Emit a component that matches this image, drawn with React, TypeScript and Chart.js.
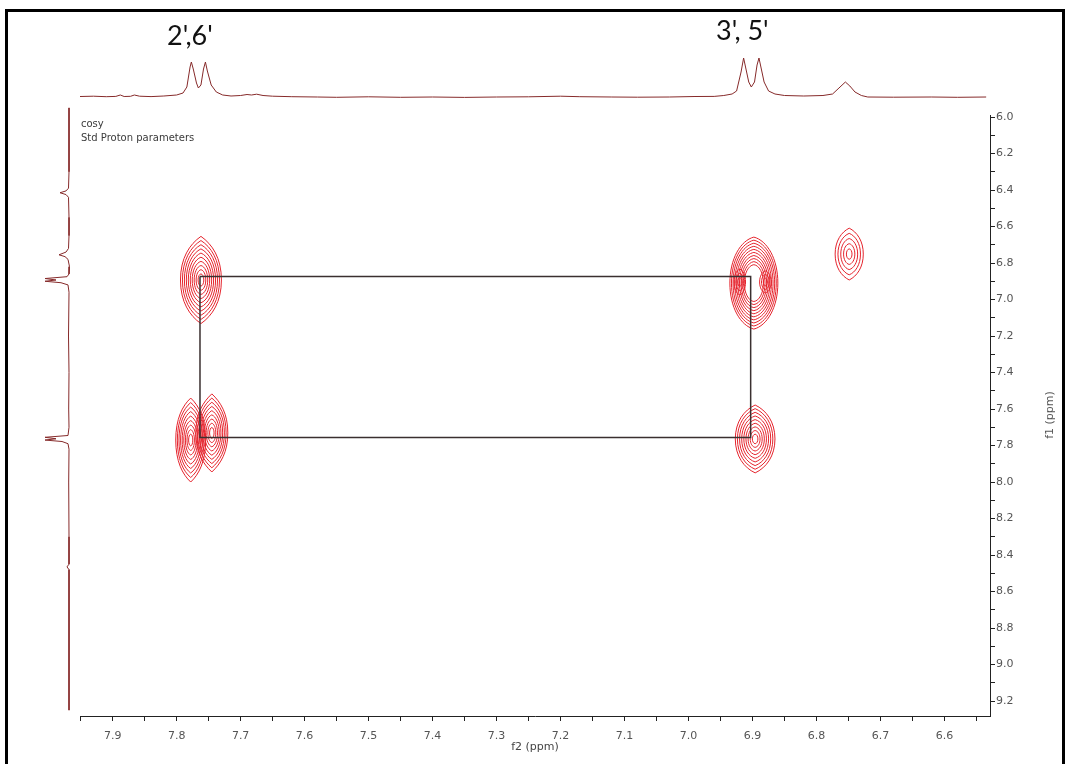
import React, { useEffect, useRef } from "react";
import { Chart, registerables } from "chart.js";
Chart.register(...registerables);

// ---------- axes ----------
const F2_MIN = 6.529;
const F2_MAX = 7.951;
const F1_MIN = 5.989;
const F1_MAX = 9.282;
const X_MAJOR = [7.9, 7.8, 7.7, 7.6, 7.5, 7.4, 7.3, 7.2, 7.1, 7.0, 6.9, 6.8, 6.7, 6.6];
const X_MINOR = [7.95, 7.85, 7.75, 7.65, 7.55, 7.45, 7.35, 7.25, 7.15, 7.05, 6.95, 6.85, 6.75, 6.65, 6.55];
const Y_MAJOR = [6.0, 6.2, 6.4, 6.6, 6.8, 7.0, 7.2, 7.4, 7.6, 7.8, 8.0, 8.2, 8.4, 8.6, 8.8, 9.0, 9.2];
const Y_MINOR = [6.1, 6.3, 6.5, 6.7, 6.9, 7.1, 7.3, 7.5, 7.7, 7.9, 8.1, 8.3, 8.5, 8.7, 8.9, 9.1];

// ---------- 2D cross peaks (centre, half widths in ppm, contour count, tip sharpness, innermost level) ----------
const PEAK_F2 = [7.762, 7.778, 7.745, 6.898, 6.920, 6.880, 6.896, 6.749];
const PEAK_F1 = [6.893, 7.770, 7.731, 6.910, 6.904, 6.904, 7.764, 6.751];
const PEAK_W2 = [0.032, 0.0234, 0.025, 0.0375, 0.009, 0.009, 0.031, 0.022];
const PEAK_W1 = [0.239, 0.230, 0.214, 0.252, 0.07, 0.06, 0.186, 0.142];
const PEAK_LEVELS = [10, 9, 9, 10, 3, 3, 9, 5];
const PEAK_TIP = [0.6, 0.6, 0.7, 0.25, 0.2, 0.2, 0.5, 0.5];
const PEAK_INNER = [0.14, 0.14, 0.14, 0.4, 0.35, 0.35, 0.14, 0.2];

// ---------- correlation box ----------
const RECT_F2 = [7.7635, 6.903, 6.903, 7.7635, 7.7635];
const RECT_F1 = [6.874, 6.874, 7.756, 7.756, 6.874];

// ---------- top 1D projection (f2) ----------
const TOP_PPM = [7.951, 7.93, 7.91, 7.895, 7.888, 7.882, 7.872, 7.866, 7.858, 7.84, 7.82, 7.8, 7.79, 7.784, 7.779, 7.777, 7.774, 7.769, 7.766, 7.762, 7.758, 7.755, 7.752, 7.746, 7.738, 7.728, 7.715, 7.7, 7.69, 7.683, 7.675, 7.665, 7.65, 7.62, 7.58, 7.55, 7.5, 7.45, 7.4, 7.35, 7.3, 7.25, 7.2, 7.17, 7.12, 7.08, 7.03, 6.99, 6.96, 6.945, 6.932, 6.925, 6.918, 6.914, 6.911, 6.906, 6.902, 6.897, 6.893, 6.89, 6.887, 6.882, 6.875, 6.865, 6.85, 6.82, 6.79, 6.775, 6.765, 6.755, 6.748, 6.74, 6.73, 6.72, 6.68, 6.62, 6.58, 6.535];
const TOP_INT = [0.5, 0.8, 0.3, 0.6, 2, 0.5, 0.7, 2, 0.8, 0.4, 1, 2, 4, 10, 30, 35, 28, 14, 9, 12, 28, 35, 26, 12, 5, 2, 1, 1.5, 2.5, 2, 2.8, 1.5, 0.8, 0.3, 0, -0.3, 0.2, -0.3, 0, -0.4, 0, 0.2, 0.8, 0.3, 0, -0.2, 0, 0.5, 0.6, 1.5, 3, 6, 25, 39, 30, 15, 10, 15, 32, 39, 30, 15, 6, 3, 1.5, 1, 1.5, 3, 9, 15, 11, 5, 1.5, 0, -0.2, 0, -0.3, 0];

// ---------- left 1D projection (f1) ----------
const LEFT_PPM = [5.95, 6.3, 6.39, 6.405, 6.415, 6.425, 6.44, 6.55, 6.65, 6.72, 6.74, 6.755, 6.765, 6.78, 6.82, 6.86, 6.875, 6.885, 6.893, 6.9, 6.908, 6.92, 6.96, 7.2, 7.4, 7.6, 7.7, 7.745, 7.755, 7.763, 7.77, 7.778, 7.79, 7.82, 8.0, 8.3, 8.45, 8.465, 8.48, 8.8, 9.25];
const LEFT_INT = [0, 0, 0.5, 3, 9, 3, 0.5, 0, 0, 0.5, 3, 10, 4, 1, -0.5, 0, 2, 24, 13, 24, 8, 1, 0, 0.5, 0, 0.3, 0, 1, 24, 13, 24, 7, 1, 0, 0.3, 0, 0, 2, 0, 0, 0];

const PEAK_LABELS = ["2',6'", "3', 5'"];
const INFO_LINES = ["cosy", "Std Proton parameters"];

const CONTOUR_COLOR = "#e5232c";
const TRACE_COLOR = "#862a2a";
const TICK_FONT = { family: "DejaVu Sans", size: 11 };

function lemon(ctx: CanvasRenderingContext2D, cx: number, cy: number, a: number, b: number, p: number) {
  const k = 0.5523;
  const ty = 1 - 0.3 * p;
  const sy = k * (1 - 0.15 * p);
  ctx.beginPath();
  ctx.moveTo(cx, cy - b);
  ctx.bezierCurveTo(cx + a * k, cy - b * ty, cx + a, cy - b * sy, cx + a, cy);
  ctx.bezierCurveTo(cx + a, cy + b * sy, cx + a * k, cy + b * ty, cx, cy + b);
  ctx.bezierCurveTo(cx - a * k, cy + b * ty, cx - a, cy + b * sy, cx - a, cy);
  ctx.bezierCurveTo(cx - a, cy - b * sy, cx - a * k, cy - b * ty, cx, cy - b);
  ctx.closePath();
  ctx.stroke();
}

const contourPlugin = {
  id: "contours",
  beforeDatasetsDraw(chart: any) {
    const { ctx, scales, chartArea } = chart;
    const xs = scales.x;
    const ys = scales.y;
    ctx.save();
    ctx.beginPath();
    ctx.rect(chartArea.left, chartArea.top, chartArea.right - chartArea.left, chartArea.bottom - chartArea.top);
    ctx.clip();
    ctx.strokeStyle = CONTOUR_COLOR;
    ctx.lineWidth = 1;
    for (let i = 0; i < PEAK_F2.length; i++) {
      const cx = xs.getPixelForValue(PEAK_F2[i]);
      const cy = ys.getPixelForValue(PEAK_F1[i]);
      const a = Math.abs(xs.getPixelForValue(PEAK_F2[i] + PEAK_W2[i]) - cx);
      const b = Math.abs(ys.getPixelForValue(PEAK_F1[i] + PEAK_W1[i]) - cy);
      const n = PEAK_LEVELS[i];
      const span = 1 - PEAK_INNER[i];
      for (let k = 0; k < n; k++) {
        const f = 1 - (k * span) / (n - 1);
        lemon(ctx, cx, cy, a * f, b * f, PEAK_TIP[i] * f);
      }
    }
    ctx.restore();
  },
  afterDraw(chart: any) {
    const { ctx } = chart;
    ctx.save();
    ctx.translate(1050, 415);
    ctx.rotate(-Math.PI / 2);
    ctx.fillStyle = "#555";
    ctx.font = "11px 'DejaVu Sans'";
    ctx.textAlign = "center";
    ctx.textBaseline = "middle";
    ctx.fillText("f1 (ppm)", 0, 0);
    ctx.restore();
  },
};

const isIn = (arr: number[], v: number) => arr.some((a) => Math.abs(a - v) < 1e-6);

export default function App() {
  const mainRef = useRef<HTMLCanvasElement>(null);
  const topRef = useRef<HTMLCanvasElement>(null);
  const leftRef = useRef<HTMLCanvasElement>(null);

  useEffect(() => {
    Chart.defaults.font.family = "DejaVu Sans";
    const main = new Chart(mainRef.current!, {
      type: "scatter",
      data: {
        datasets: [
          {
            data: RECT_F2.map((x, i) => ({ x, y: RECT_F1[i] })),
            showLine: true,
            borderColor: "#3a3030",
            borderWidth: 1.5,
            pointRadius: 0,
            tension: 0,
          },
        ],
      },
      options: {
        animation: false,
        responsive: false,
        maintainAspectRatio: false,
        layout: { padding: { left: 80, top: 115, right: 0, bottom: 0 } },
        plugins: { legend: { display: false }, tooltip: { enabled: false } },
        scales: {
          x: {
            type: "linear",
            position: "bottom",
            reverse: true,
            min: F2_MIN,
            max: F2_MAX,
            afterBuildTicks: (s: any) => {
              s.ticks = [...X_MAJOR, ...X_MINOR].sort((a, b) => b - a).map((v) => ({ value: v }));
            },
            afterFit: (s: any) => {
              s.height = 48;
            },
            ticks: {
              autoSkip: false,
              maxRotation: 0,
              padding: 9,
              color: "#555",
              font: TICK_FONT,
              callback: (v: any) => (isIn(X_MAJOR, Number(v)) ? Number(v).toFixed(1) : ""),
            },
            grid: { drawOnChartArea: false, tickLength: 5, color: "#222" },
            border: { color: "#222", width: 1 },
            title: {
              display: true,
              text: "f2 (ppm)",
              color: "#444",
              font: TICK_FONT,
              padding: { top: 0, bottom: 10 },
            },
          },
          y: {
            type: "linear",
            position: "right",
            reverse: true,
            min: F1_MIN,
            max: F1_MAX,
            afterBuildTicks: (s: any) => {
              s.ticks = [...Y_MAJOR, ...Y_MINOR].sort((a, b) => a - b).map((v) => ({ value: v }));
            },
            afterFit: (s: any) => {
              s.width = 75;
            },
            ticks: {
              autoSkip: false,
              padding: 1,
              color: "#555",
              font: TICK_FONT,
              callback: (v: any) => (isIn(Y_MAJOR, Number(v)) ? Number(v).toFixed(1) : ""),
            },
            grid: { drawOnChartArea: false, tickLength: 5, color: "#222" },
            border: { color: "#222", width: 1 },
          },
        },
      },
      plugins: [contourPlugin],
    } as any);

    const top = new Chart(topRef.current!, {
      type: "scatter",
      data: {
        datasets: [
          {
            data: TOP_PPM.map((x, i) => ({ x, y: TOP_INT[i] })),
            showLine: true,
            borderColor: TRACE_COLOR,
            borderWidth: 1,
            pointRadius: 0,
            tension: 0,
            clip: false,
          },
        ],
      },
      options: {
        animation: false,
        responsive: false,
        maintainAspectRatio: false,
        layout: { padding: { left: 80, right: 75, top: 0, bottom: 0 } },
        plugins: { legend: { display: false }, tooltip: { enabled: false } },
        scales: {
          x: { type: "linear", display: false, reverse: true, min: F2_MIN, max: F2_MAX },
          y: { type: "linear", display: false, min: -5, max: 47 },
        },
      },
    } as any);

    const left = new Chart(leftRef.current!, {
      type: "scatter",
      data: {
        datasets: [
          {
            data: LEFT_PPM.map((y, i) => ({ x: LEFT_INT[i], y })),
            showLine: true,
            borderColor: TRACE_COLOR,
            borderWidth: 1,
            pointRadius: 0,
            tension: 0,
            clip: false,
          },
        ],
      },
      options: {
        animation: false,
        responsive: false,
        maintainAspectRatio: false,
        layout: { padding: { left: 0, right: 0, top: 115, bottom: 48 } },
        plugins: { legend: { display: false }, tooltip: { enabled: false } },
        scales: {
          x: { type: "linear", display: false, reverse: true, min: -11, max: 69 },
          y: { type: "linear", display: false, reverse: true, min: F1_MIN, max: F1_MAX },
        },
      },
    } as any);

    return () => {
      main.destroy();
      top.destroy();
      left.destroy();
    };
  }, []);

  const abs = (l: number, t: number): React.CSSProperties => ({ position: "absolute", left: l, top: t });

  return (
    <div style={{ position: "absolute", left: 0, top: 0, width: 1065, height: 764, overflow: "hidden", background: "#fff" }}>
      <canvas ref={mainRef} width={1065} height={764} style={{ ...abs(0, 0), display: "block" }} />
      <canvas ref={topRef} width={1065} height={52} style={{ ...abs(0, 50), display: "block" }} />
      <canvas ref={leftRef} width={80} height={764} style={{ ...abs(0, 0), display: "block" }} />
      <div
        style={{
          position: "absolute",
          left: 5,
          top: 9,
          width: 1060,
          height: 800,
          boxSizing: "border-box",
          borderTop: "3px solid #000",
          borderLeft: "3px solid #000",
          borderRight: "3px solid #000",
          pointerEvents: "none",
        }}
      />
      <div style={{ ...abs(167, 18), font: "27px Lato", color: "#111", whiteSpace: "pre" }}>{PEAK_LABELS[0]}</div>
      <div style={{ ...abs(716, 13), font: "27px Lato", color: "#111", whiteSpace: "pre" }}>{PEAK_LABELS[1]}</div>
      <div style={{ ...abs(81, 117), font: "10px 'DejaVu Sans'", lineHeight: "14px", color: "#3a3a3a" }}>
        {INFO_LINES.map((t) => (
          <div key={t}>{t}</div>
        ))}
      </div>
    </div>
  );
}
